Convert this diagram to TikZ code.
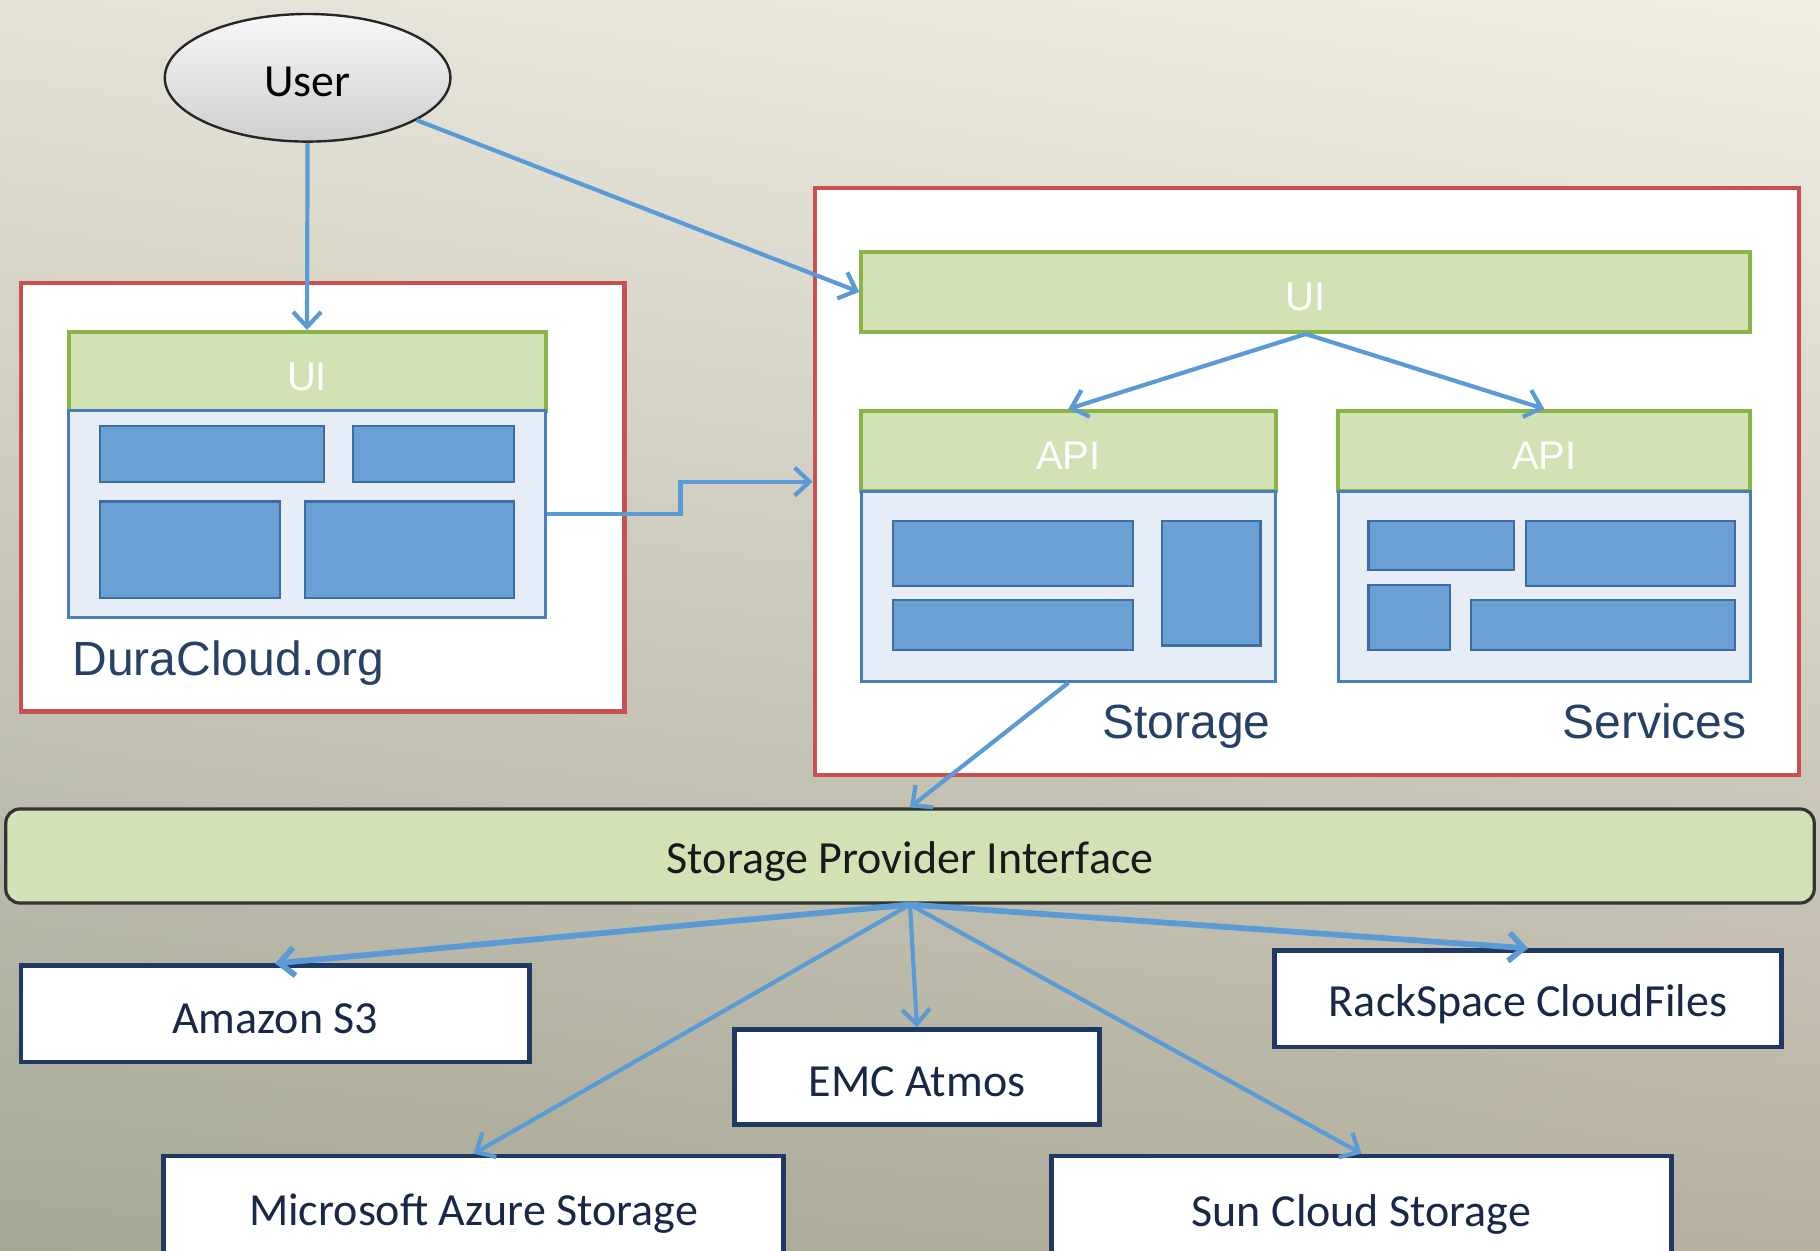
\documentclass[tikz,border=0pt]{standalone}
\usepackage{fontspec}
\setmainfont{Carlito}
\newfontfamily\helv{Liberation Sans}
\usetikzlibrary{arrows.meta,shapes.geometric,fit,shadings}
\definecolor{bgUL}{RGB}{228,226,214}
\definecolor{bgUR}{RGB}{241,239,228}
\definecolor{bgLL}{RGB}{166,167,149}
\definecolor{bgLR}{RGB}{182,176,160}
\definecolor{myred}{RGB}{200,80,80}
\definecolor{mygreen}{RGB}{211,226,180}
\definecolor{mygreenline}{RGB}{138,180,70}
\definecolor{mybluef}{RGB}{230,237,246}
\definecolor{mybluel}{RGB}{74,126,187}
\definecolor{myblk}{RGB}{106,160,212}
\definecolor{myblkl}{RGB}{60,110,165}
\definecolor{arrowblue}{RGB}{91,155,213}
\definecolor{navyline}{RGB}{31,56,100}
\definecolor{navytext}{RGB}{25,40,70}
\definecolor{slatetext}{RGB}{38,64,102}
\tikzset{
  lbl/.style={font=\fontsize{23}{27}\selectfont},
  redbox/.style={draw=myred, line width=2.1pt, fill=white, inner sep=0pt},
  greenbar/.style={draw=mygreenline, line width=2pt, fill=mygreen, inner sep=0pt},
  whitelbl/.style={text=white, font=\helv\fontsize{20}{24}\selectfont, yshift=-2.5pt},
  bluepanel/.style={draw=mybluel, line width=1.5pt, fill=mybluef, inner sep=0pt},
  blk/.style={draw=myblkl, line width=1.1pt, fill=myblk, inner sep=0pt},
  provbox/.style={draw=navyline, line width=2.3pt, fill=white, inner sep=0pt},
  provlbl/.style={lbl, text=navytext, yshift=-2.5pt},
  slatelbl/.style={text=slatetext, font=\helv\fontsize{24}{28}\selectfont, inner sep=0pt},
  arr/.style={draw=arrowblue, line width=2.1pt, -{Straight Barb[length=7.5pt,width=14pt]}},
  arrthick/.style={arr, line width=2.9pt},
}
\begin{document}
\begin{tikzpicture}[x=0.5pt,y=-0.5pt]
\useasboundingbox (0,0) rectangle (1820,1251);
\clip (0,0) rectangle (1820,1251);
\shade[upper left=bgUL, upper right=bgUR, lower left=bgLL, lower right=bgLR] (0,0) rectangle (1820,1251);

% user
\node[ellipse, draw=black!85, line width=1.2pt, top color=gray!6, bottom color=gray!38,
      minimum width=142.8pt, minimum height=63.8pt, inner sep=0pt] (user) at (307.6,77.8) {};
\node[lbl, yshift=-2pt] (usert) at (user.center) {User};

% left: DuraCloud.org
\coordinate (a1) at (20.9,283.2); \coordinate (a2) at (624.5,711.5);
\node[redbox, fit=(a1)(a2)] (lred) {};
\coordinate (b1) at (68.5,332); \coordinate (b2) at (545.5,411);
\node[greenbar, fit=(b1)(b2)] (lui) {};
\node[whitelbl] (luit) at (lui.center) {UI};
\coordinate (c1) at (68.5,411); \coordinate (c2) at (545.5,617.5);
\node[bluepanel, fit=(c1)(c2)] (lblue) {};
\draw[blk] (99.8,426) rectangle (323.8,481.7);
\draw[blk] (352.9,426) rectangle (514.2,481.7);
\draw[blk] (99.8,501.4) rectangle (279.7,597.8);
\draw[blk] (305.3,501.4) rectangle (514.2,597.8);
\node[slatelbl, anchor=base west] (dura) at (72,675) {DuraCloud.org};

% right: DuraCloud instance
\coordinate (d1) at (814.8,188); \coordinate (d2) at (1799.1,775.3);
\node[redbox, fit=(d1)(d2)] (rred) {};
\coordinate (e1) at (861.2,251.9); \coordinate (e2) at (1750.3,332);
\node[greenbar, fit=(e1)(e2)] (rui) {};
\node[whitelbl] (ruit) at (rui.center) {UI};
\coordinate (f1) at (861.2,410.9); \coordinate (f2) at (1275.6,491);
\node[greenbar, fit=(f1)(f2)] (sapi) {};
\node[whitelbl] (sapit) at (sapi.center) {API};
\coordinate (g1) at (861.2,491); \coordinate (g2) at (1275.6,681.3);
\node[bluepanel, fit=(g1)(g2)] (sblue) {};
\coordinate (h1) at (1338.3,410.9); \coordinate (h2) at (1750.3,491);
\node[greenbar, fit=(h1)(h2)] (vapi) {};
\node[whitelbl] (vapit) at (vapi.center) {API};
\coordinate (i1) at (1338.3,491); \coordinate (i2) at (1750.3,681.3);
\node[bluepanel, fit=(i1)(i2)] (vblue) {};
\draw[blk] (892.6,521.2) rectangle (1132.8,586.2);
\draw[blk] (892.6,600.1) rectangle (1132.8,650);
\draw[blk] (1161.9,521.2) rectangle (1260.5,645.4);
\draw[blk] (1368.5,521.2) rectangle (1513.6,569.9);
\draw[blk] (1526.3,521.2) rectangle (1735.2,586.2);
\draw[blk] (1368.5,585) rectangle (1449.7,650);
\draw[blk] (1470.6,600.1) rectangle (1735.2,650);
\node[slatelbl, anchor=base east] (stor) at (1271,738) {Storage};
\node[slatelbl, anchor=base east] (serv) at (1747,738) {Services};

% storage provider interface
\coordinate (j1) at (5.8,809); \coordinate (j2) at (1814.2,903);
\node[fit=(j1)(j2), inner sep=0pt, draw=black!80, line width=1.6pt, fill=mygreen, rounded corners=7pt] (spi) {};
\node[lbl, text=black!90, yshift=-2.5pt] (spit) at (spi.center) {Storage Provider Interface};

% providers
\coordinate (k1) at (20.9,965.7); \coordinate (k2) at (529.3,1062);
\node[provbox, fit=(k1)(k2)] (amazon) {};
\node[provlbl] (amazont) at (amazon.center) {Amazon S3};
\coordinate (l1) at (734.7,1029.5); \coordinate (l2) at (1099.2,1124.7);
\node[provbox, fit=(l1)(l2)] (emc) {};
\node[provlbl] (emct) at (emc.center) {EMC Atmos};
\coordinate (m1) at (1274.5,950.6); \coordinate (m2) at (1781.7,1047);
\node[provbox, fit=(m1)(m2)] (rack) {};
\node[provlbl] (rackt) at (rack.center) {RackSpace CloudFiles};
\coordinate (n1) at (163.7,1156); \coordinate (n2) at (783.5,1262);
\node[provbox, fit=(n1)(n2)] (azure) {};
\node[provlbl] (azuret) at (azure.center) {Microsoft Azure Storage};
\coordinate (o1) at (1051.6,1156); \coordinate (o2) at (1671.4,1262);
\node[provbox, fit=(o1)(o2)] (sun) {};
\node[provlbl] (sunt) at (sun.center) {Sun Cloud Storage};

% connectors
\draw[arr] (user.south) -- (lui.north);
\draw[arr] (user) -- (rui.west);
\draw[arr] (lblue.east) -- ++(133.5,0) |- (rred.west);
\draw[arr] (rui.south) -- (sapi.north);
\draw[arr] (rui.south) -- (vapi.north);
\draw[arr] (sblue.south) -- (spi.north);
\draw[arrthick] (spi.south) -- (amazon.north);
\draw[arr] (spi.south) -- (azure.north);
\draw[arr] (spi.south) -- (emc.north);
\draw[arr] (spi.south) -- (sun.north);
\draw[arrthick] (spi.south) -- (rack.north);
\end{tikzpicture}
\end{document}
